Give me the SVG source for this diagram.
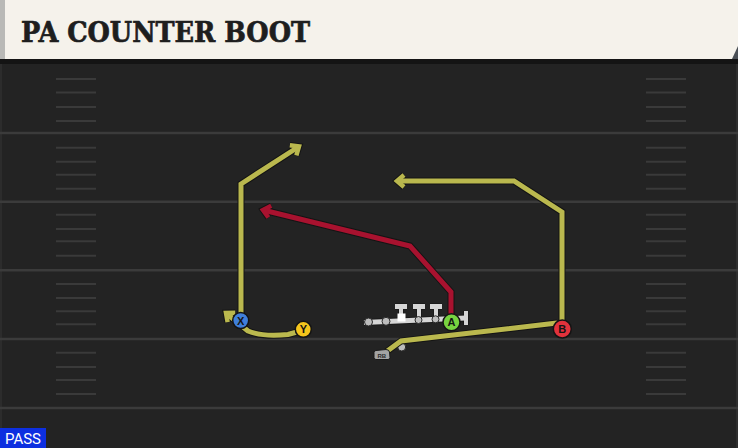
<svg xmlns="http://www.w3.org/2000/svg" width="738" height="448" viewBox="0 0 738 448">
<defs>
<style>
.major{stroke:#3b3b3b;stroke-width:2.5;fill:none}
.hash{stroke:#3a3a3a;stroke-width:2;fill:none}
.outline{fill:none;stroke:#141414;stroke-width:7;stroke-linejoin:miter;stroke-linecap:butt}
.yel{fill:none;stroke:#bab84e;stroke-width:5;stroke-linejoin:miter;stroke-linecap:butt}
.red{fill:none;stroke:#a8122f;stroke-width:5;stroke-linejoin:miter;stroke-linecap:butt}
.player{stroke:#141414;stroke-width:1.5}
.lbl{font-family:"Liberation Sans",Arial,sans-serif;font-weight:bold;font-size:11px;fill:#141414;text-anchor:middle}
.bar{fill:none;stroke:#d6d6d6;stroke-width:5;stroke-linecap:butt}
.baro{fill:none;stroke:#1a1a1a;stroke-width:7;stroke-linecap:butt}
.stem{fill:none;stroke:#d6d6d6;stroke-width:4;stroke-linecap:butt}
.stemo{fill:none;stroke:#1a1a1a;stroke-width:6;stroke-linecap:butt}
.dot{fill:#bdbdbd;stroke:#2a2a2a;stroke-width:1}
</style>
<marker id="arrY" markerUnits="userSpaceOnUse" markerWidth="20" markerHeight="20" refX="0" refY="0" viewBox="-10 -10 20 20" orient="auto" overflow="visible">
<path d="M-7,-6 L0,0 L-7,6" fill="none" stroke="#bab84e" stroke-width="4.5"/>
</marker>
<marker id="arrR" markerUnits="userSpaceOnUse" markerWidth="20" markerHeight="20" refX="0" refY="0" viewBox="-10 -10 20 20" orient="auto" overflow="visible">
<path d="M-7,-6 L0,0 L-7,6" fill="none" stroke="#a8122f" stroke-width="4.5"/>
</marker>
<marker id="arrO" markerUnits="userSpaceOnUse" markerWidth="20" markerHeight="20" refX="0" refY="0" viewBox="-10 -10 20 20" orient="auto" overflow="visible">
<path d="M-7,-6 L0,0 L-7,6" fill="none" stroke="#141414" stroke-width="6.5"/>
</marker>
</defs>

<rect x="0" y="0" width="738" height="448" fill="#232323"/>
<rect x="0" y="60" width="2" height="388" fill="#2c2c2c"/>
<rect x="736" y="60" width="2" height="388" fill="#2e2e2e"/>

<g id="field">
<path class="major" d="M0,133H738M0,201.7H738M0,270.3H738M0,339H738M0,408H738"/>
<path class="hash" d="M56,79H96M56,92.5H96M56,107H96M56,121H96M56,147.7H96M56,161.7H96M56,174.7H96M56,188.7H96M56,214.7H96M56,229H96M56,241.3H96M56,255.7H96M56,284H96M56,298H96M56,311.3H96M56,324.3H96M56,352.7H96M56,367H96M56,380H96M56,394H96"/>
<path class="hash" d="M646,79H686M646,92.5H686M646,107H686M646,121H686M646,147.7H686M646,161.7H686M646,174.7H686M646,188.7H686M646,214.7H686M646,229H686M646,241.3H686M646,255.7H686M646,284H686M646,298H686M646,311.3H686M646,324.3H686M646,352.7H686M646,367H686M646,380H686M646,394H686"/>
</g>

<g id="header">
<rect x="0" y="58" width="738" height="6" fill="#141414"/>
<polygon points="726,59 738,40 738,59" fill="#4a4f55"/>
<polygon points="0,0 738,0 738,46 732,59 0,59" fill="#f5f2eb"/>
<rect x="0" y="0" width="5" height="59" fill="#b9b9b6"/>
<text x="21" y="42.3" font-family="'DejaVu Serif','Liberation Serif',serif" font-weight="bold" font-size="27" fill="#1e1e1e" stroke="#1e1e1e" stroke-width="0.7" textLength="289" lengthAdjust="spacingAndGlyphs">PA COUNTER BOOT</text>
</g>

<g id="fb-dot">
<circle class="dot" cx="401.7" cy="347" r="4"/>
</g>

<g id="connectors">
<path class="outline" d="M241,313 L241,184 L299,146.5" marker-end="url(#arrO)"/>
<path class="yel" d="M241,313 L241,184 L299,146.5" marker-end="url(#arrY)"/>
<path class="outline" d="M297,332 L288,334.5 Q262,337 248,331 L226,313" marker-end="url(#arrO)"/>
<path class="yel" d="M297,332 L288,334.5 Q262,337 248,331 L226,313" marker-end="url(#arrY)"/>
<path class="outline" d="M562,322 L562,212 L514,181 L397,181" marker-end="url(#arrO)"/>
<path class="yel" d="M562,322 L562,212 L514,181 L397,181" marker-end="url(#arrY)"/>
<path class="outline" d="M451,316 L451,292 L410,246 L263,210" marker-end="url(#arrO)"/>
<path class="red" d="M451,316 L451,292 L410,246 L263,210" marker-end="url(#arrR)"/>
<path class="outline" d="M386,352 L401,341 L557,323"/>
<path class="yel" d="M386,352 L401,341 L557,323"/>
</g>

<g id="line">
<path class="stemo" d="M401,306.5 V318 M419,306.5 V317 M436,306.5 V316.5 M466,311 V325"/>
<path class="baro" d="M364,322.5 L466,318 M395,306.5 H407 M413,306.5 H425 M430,306.5 H442"/>
<path class="stem" d="M401,306.5 V318 M419,306.5 V317 M436,306.5 V316.5 M466,311 V325"/>
<path class="bar" d="M364,322.5 L466,318 M395,306.5 H407 M413,306.5 H425 M430,306.5 H442"/>
<circle class="dot" cx="368.5" cy="322" r="4"/>
<circle class="dot" cx="386" cy="321.3" r="4"/>
<circle class="dot" cx="418.5" cy="320" r="3.5"/>
<circle class="dot" cx="435.5" cy="319.3" r="3.5"/>
<rect x="397.5" y="313.5" width="8" height="8" fill="#ffffff"/>
</g>

<g id="rb">
<path d="M376,350.5 L386,349.5 Q389,349.5 389.5,352 L390,357.5 Q390,359.5 388,359.5 L376,359.5 Q374,359.5 374,357.5 L374,352.5 Q374,350.5 376,350.5 Z" fill="#a3a3a3" stroke="#1a1a1a" stroke-width="1"/>
<text x="381.8" y="357.6" font-family="'Liberation Sans',Arial,sans-serif" font-weight="bold" font-size="6" fill="#2a2a2a" text-anchor="middle">RB</text>
</g>

<g id="player-x">
<circle class="player" cx="240.7" cy="320.5" r="8" fill="#3f7fdb"/>
<text class="lbl" x="240.7" y="324.5">X</text>
</g>
<g id="player-y">
<circle class="player" cx="303.3" cy="329.3" r="8" fill="#f4c51c"/>
<text class="lbl" x="303.3" y="333.3">Y</text>
</g>
<g id="player-a">
<circle class="player" cx="451.5" cy="322.3" r="8.5" fill="#77d340"/>
<text class="lbl" x="451.5" y="326.3">A</text>
</g>
<g id="player-b">
<circle class="player" cx="562.3" cy="329" r="9" fill="#e2323c"/>
<text class="lbl" x="562.3" y="333">B</text>
</g>

<g id="badge">
<rect x="0" y="428" width="46" height="20" fill="#0d2fe0"/>
<text x="5" y="444.3" font-family="Roboto,'Liberation Sans',sans-serif" font-size="15" fill="#ffffff" textLength="36" lengthAdjust="spacingAndGlyphs">PASS</text>
</g>
</svg>
